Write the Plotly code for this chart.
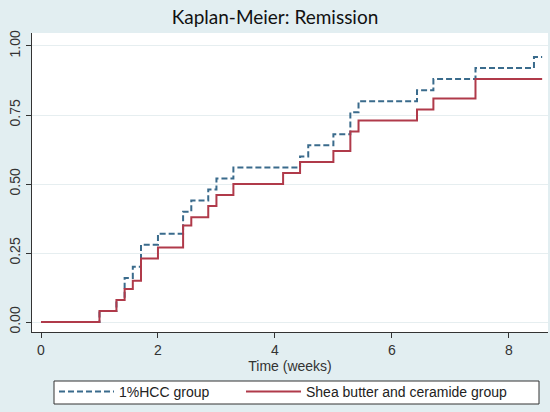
import plotly.graph_objects as go

# Kaplan-Meier failure estimates (time in weeks)
hcc_times = [0, 1.0, 1.29, 1.43, 1.57, 1.71, 2.0, 2.43, 2.57, 2.86, 3.0, 3.29,
             4.43, 4.57, 5.0, 5.29, 5.43, 6.43, 6.71, 7.43, 8.43, 8.57]
hcc_values = [0, 0.04, 0.08, 0.16, 0.20, 0.28, 0.32, 0.40, 0.44, 0.48, 0.52, 0.56,
              0.60, 0.64, 0.68, 0.76, 0.80, 0.84, 0.88, 0.92, 0.96, 0.96]

shea_times = [0, 1.0, 1.29, 1.43, 1.57, 1.71, 2.0, 2.43, 2.57, 2.86, 3.0, 3.29,
              4.14, 4.43, 5.0, 5.29, 5.43, 6.43, 6.71, 7.43, 8.57]
shea_values = [0, 0.04, 0.08, 0.12, 0.15, 0.23, 0.27, 0.35, 0.38, 0.42, 0.46, 0.50,
               0.54, 0.58, 0.62, 0.69, 0.73, 0.77, 0.81, 0.88, 0.88]

series_names = ["1%HCC group", "Shea butter and ceramide group"]
x_ticks = [0, 2, 4, 6, 8]
y_ticks = [0, 0.25, 0.5, 0.75, 1.0]
y_tick_labels = ["0.00", "0.25", "0.50", "0.75", "1.00"]

BG = "#e2eef1"
BLUE = "#3a6b8c"
RED = "#b03a4a"
FONT = "Liberation Sans"

fig = go.Figure()
fig.add_trace(go.Scatter(
    x=hcc_times, y=hcc_values, mode="lines", line_shape="hv",
    line=dict(color=BLUE, width=2, dash="6px,3px"), name=series_names[0],
    legend="legend"))
fig.add_trace(go.Scatter(
    x=shea_times, y=shea_values, mode="lines", line_shape="hv",
    line=dict(color=RED, width=2), name=series_names[1], legend="legend2"))

L, R, T, B = 32, 2, 33, 80
W, H = 550, 412
pw, ph = W - L - R, H - T - B

def px_x(p):
    return (p - L) / pw

def px_y(p):
    return (H - B - p) / ph

legend_common = dict(orientation="h", xanchor="left", yanchor="middle",
                     bgcolor="rgba(0,0,0,0)", borderwidth=0, itemwidth=55,
                     font=dict(size=14, color="#222222"))

fig.update_layout(
    width=W, height=H,
    margin=dict(l=L, r=R, t=T, b=B, autoexpand=False),
    paper_bgcolor=BG, plot_bgcolor="white",
    font=dict(family=FONT, color="#333333", size=14),
    title=dict(text="Kaplan-Meier: Remission", x=0.5, xanchor="center",
               y=1 - 17 / H, yanchor="middle", xref="container",
               font=dict(family="Lato", size=19, color="#111111")),
    xaxis=dict(range=[-0.154, 8.67], tickvals=x_ticks, ticks="outside",
               ticklen=5, tickcolor="#333333", showgrid=False, zeroline=False,
               showline=True, linecolor="#333333", linewidth=1, automargin=False,
               tickfont=dict(size=14, color="#333333"),
               title=dict(text="Time (weeks)", font=dict(size=14, color="#333333"),
                          standoff=0)),
    yaxis=dict(range=[-0.036, 1.047], tickvals=y_ticks, ticktext=y_tick_labels,
               ticks="outside", ticklen=5, tickcolor="#333333", tickangle=-90,
               showgrid=True, gridcolor="#e6eef0", gridwidth=1, zeroline=False,
               showline=True, linecolor="#333333", linewidth=1, automargin=False,
               tickfont=dict(size=14, color="#333333")),
    showlegend=True,
    legend=dict(x=px_x(54), y=px_y(392), **legend_common),
    legend2=dict(x=px_x(241), y=px_y(392), **legend_common),
    shapes=[dict(type="rect", xref="paper", yref="paper",
                 x0=px_x(54), x1=px_x(539), y0=px_y(404), y1=px_y(381),
                 line=dict(color="#333333", width=1), fillcolor="white",
                 layer="below")],
)

fig.write_html("out.html",
               config={"displayModeBar": False},
               post_script="document.body.style.margin='0';"
                           "document.body.style.overflow='hidden';")
